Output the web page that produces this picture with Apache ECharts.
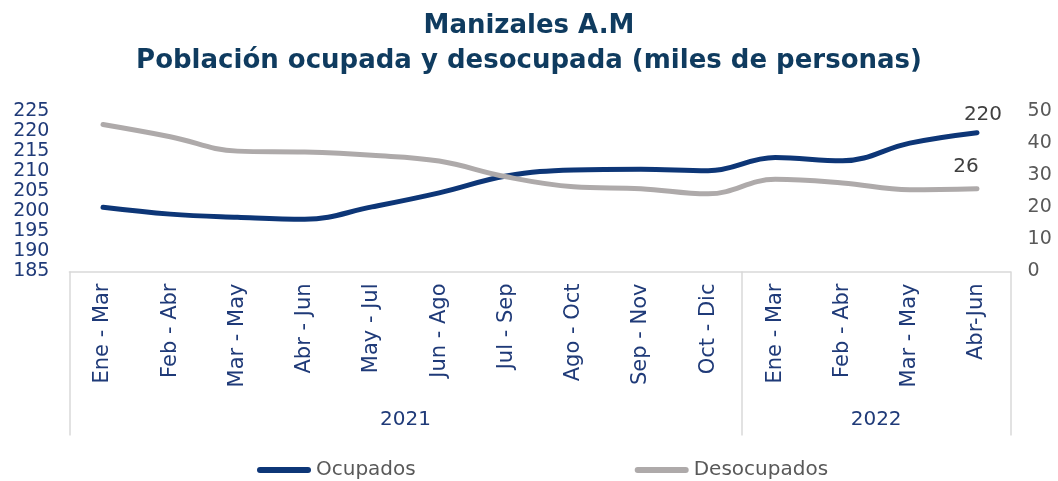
<!DOCTYPE html>
<html>
<head>
<meta charset="utf-8">
<script src="https://cdn.jsdelivr.net/npm/echarts@6/dist/echarts.min.js"></script>
<style>
  html, body { margin: 0; padding: 0; background: #fff; }
  #chart { width: 1058px; height: 481px; }
</style>
</head>
<body>
<div id="chart"></div>
<script>
const categories = [
  'Ene - Mar', 'Feb - Abr', 'Mar - May', 'Abr - Jun', 'May - Jul', 'Jun - Ago', 'Jul - Sep',
  'Ago - Oct', 'Sep - Nov', 'Oct - Dic', 'Ene - Mar', 'Feb - Abr', 'Mar - May', 'Abr-Jun'
]
const years = ['2021', '2022']
const yearSpans = [10, 4]

const ocupados = [201.0, 199.3, 198.5, 198.0, 201.1, 204.6, 208.8, 210.3, 210.5, 210.1, 213.4, 212.6, 217.0, 219.6]
const desocupados = [45.8, 42.0, 37.5, 37.2, 36.2, 34.4, 29.5, 26.4, 25.8, 24.2, 28.7, 27.6, 25.5, 25.8]

const leftTicks = { min: 185, max: 225, step: 5 }
const rightTicks = { min: 0, max: 50, step: 10 }

const navy = '#1F3A78'
const font = 'DejaVu Sans'

// group boundaries and year label positions on a 0..n scale
const bounds = [0]
const mids = []
yearSpans.forEach((s, i) => {
  const start = bounds[bounds.length - 1]
  mids.push(start + s / 2)
  bounds.push(start + s)
})

function withLastLabel(arr, offset) {
  return arr.map((v, i) => i === arr.length - 1
    ? { value: v, label: { show: true, position: 'top', distance: 8, offset: offset } }
    : v)
}

const chart = echarts.init(document.getElementById('chart'))
chart.setOption({
  animation: false,
  title: {
    text: 'Manizales A.M\nPoblación ocupada y desocupada (miles de personas)',
    left: 'center',
    top: 4,
    padding: [5, 0, 5, 13],
    textStyle: {
      fontFamily: font,
      fontWeight: 'bold',
      fontSize: 26,
      lineHeight: 35,
      color: '#0F3B5F'
    }
  },
  legend: {
    data: ['Ocupados', 'Desocupados'],
    left: 252,
    top: 455,
    itemWidth: 54,
    itemHeight: 6,
    itemGap: 219,
    icon: 'path://M3,0 H51 A3,3 0 0 1 51,6 H3 A3,3 0 0 1 3,0 Z',
    textStyle: { fontFamily: font, fontSize: 20, color: '#595959' }
  },
  grid: {
    left: 69.4,
    right: 47.4,
    top: 111,
    bottom: 209.5,
    outerBoundsMode: 'none'
  },
  xAxis: [
    {
      type: 'category',
      data: categories,
      position: 'bottom',
      axisLine: { show: true, lineStyle: { color: '#D9D9D9', width: 1.5 } },
      axisTick: { show: false },
      axisLabel: {
        interval: 0,
        rotate: 90,
        margin: 12,
        fontFamily: font,
        fontSize: 21,
        color: navy
      },
      splitLine: { show: false }
    },
    {
      type: 'value',
      min: 0,
      max: categories.length,
      position: 'bottom',
      axisLine: { show: false },
      axisTick: {
        show: true,
        customValues: bounds,
        length: 164,
        lineStyle: { color: '#D9D9D9', width: 1.5 }
      },
      axisLabel: {
        customValues: mids,
        margin: 138,
        fontFamily: font,
        fontSize: 20,
        color: navy,
        formatter: v => years[mids.indexOf(v)] || ''
      },
      splitLine: { show: false }
    }
  ],
  yAxis: [
    {
      type: 'value',
      min: leftTicks.min,
      max: leftTicks.max,
      interval: leftTicks.step,
      axisLine: { show: false },
      axisTick: { show: false },
      splitLine: { show: false },
      axisLabel: { margin: 20, fontFamily: font, fontSize: 19, color: navy }
    },
    {
      type: 'value',
      min: rightTicks.min,
      max: rightTicks.max,
      interval: rightTicks.step,
      axisLine: { show: false },
      axisTick: { show: false },
      splitLine: { show: false },
      axisLabel: { margin: 17, fontFamily: font, fontSize: 19, color: '#595959' }
    }
  ],
  series: [
    {
      name: 'Ocupados',
      type: 'line',
      xAxisIndex: 0,
      yAxisIndex: 0,
      smooth: 0.4,
      showSymbol: true,
      symbol: 'circle',
      symbolSize: 0,
      data: withLastLabel(ocupados, [6, 0]),
      lineStyle: { width: 5, color: '#0D3677', cap: 'round' },
      itemStyle: { color: '#0D3677' },
      label: {
        formatter: p => Math.round(p.value),
        fontFamily: font,
        fontSize: 20,
        color: '#404040'
      }
    },
    {
      name: 'Desocupados',
      type: 'line',
      xAxisIndex: 0,
      yAxisIndex: 1,
      smooth: 0.4,
      showSymbol: true,
      symbol: 'circle',
      symbolSize: 0,
      data: withLastLabel(desocupados, [-11, -4]),
      lineStyle: { width: 5, color: '#AEAAAA', cap: 'round' },
      itemStyle: { color: '#AEAAAA' },
      label: {
        formatter: p => Math.round(p.value),
        fontFamily: font,
        fontSize: 20,
        color: '#404040'
      }
    }
  ]
})
</script>
</body>
</html>
